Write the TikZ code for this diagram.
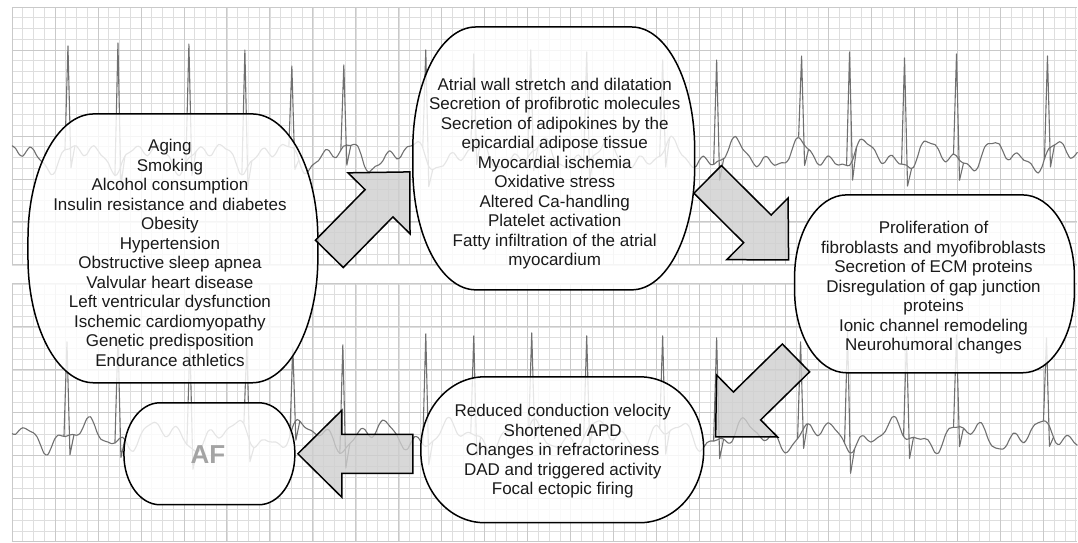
\documentclass[tikz,border=0pt]{standalone}
\usepackage{fontspec}
\setmainfont{Liberation Sans}
\usetikzlibrary{calc}
\definecolor{gridminor}{HTML}{DEDEDE}
\definecolor{gridmajor}{HTML}{C9C9C9}
\definecolor{ecggray}{HTML}{707070}
\definecolor{arrowgray}{HTML}{CFCFCF}
\definecolor{afgray}{HTML}{A4A4A4}
\definecolor{textblack}{HTML}{1A1A1A}

% rounded box with elliptic corners: cx, cy, half width, half height, rx, ry
\newcommand\bubble[6]{%
  \draw[bubble] ({#1-#3+#5},{#2+#4}) -- ({#1+#3-#5},{#2+#4})
    arc[start angle=90,end angle=0,x radius=#5,y radius=#6]
    -- ({#1+#3},{#2-#4+#6})
    arc[start angle=0,end angle=-90,x radius=#5,y radius=#6]
    -- ({#1-#3+#5},{#2-#4})
    arc[start angle=270,end angle=180,x radius=#5,y radius=#6]
    -- ({#1-#3},{#2+#4-#6})
    arc[start angle=180,end angle=90,x radius=#5,y radius=#6] -- cycle;}

% block arrow from tail coordinate to tip coordinate
\newcommand\fatarrow[2]{%
  \path let \p1=($(#2)-(#1)$) in \pgfextra{%
    \pgfmathsetmacro\arrang{atan2(\y1,\x1)}\global\let\arrang\arrang
    \pgfmathsetmacro\arrlen{veclen(\x1,\y1)}\global\let\arrlen\arrlen};
  \draw[fatarrow, shift={(#2)}, rotate=\arrang]
    (0,0) -- (-44,43.5) -- (-44,19.5) -- ({-\arrlen},19.5)
    -- ({-\arrlen},-19.5) -- (-44,-19.5) -- (-44,-43.5) -- cycle;}

\begin{document}
\begin{tikzpicture}[x=1pt, y=1pt,
  bubble/.style={draw=black, line width=1.5pt, fill=white, fill opacity=0.82},
  bubbletext/.style={align=center, inner sep=0pt, text=textblack,
    font=\fontsize{17}{19.5}\selectfont},
  fatarrow/.style={draw=black, line width=1.5pt, fill=arrowgray,
    fill opacity=0.8, line join=miter},
  ecg/.style={ecggray, line width=1.1pt, line join=round},
  declare function={
    topwave(\x)=386+10*sin(5.5*\x)+7*sin(11.3*\x+50)
                +3*sin(23*mod(\x,360/23)+120);
    lowwave(\x)=106+10*sin(4.9*\x+30)+7*sin(12.1*mod(\x,360/12.1)+80)
                +3*sin(21*mod(\x,360/21)+10);}]

  \fill[white] (0,0) rectangle (1078,542); % page

  % paper grid
  \begin{scope}[shift={(12,277)}]
    \draw[gridminor, line width=0.6pt] (0,0) grid[step=10.75] (1066,258);
    \draw[gridmajor, line width=0.8pt] (0,0) grid[step=43] (1066,258);
  \end{scope}
  \begin{scope}[shift={(12,0)}]
    \draw[gridminor, line width=0.6pt] (0,0) grid[step=10.75] (1066,258);
    \draw[gridmajor, line width=0.8pt] (0,0) grid[step=43] (1066,258);
  \end{scope}

  % traces
  \draw[ecg] plot[domain=12:1078, samples=300, smooth] (\x,{topwave(\x)});
  \foreach \s/\p in {68/496, 118/499, 189/498, 245/492, 292/476, 344/477,
                     426/492, 474/488, 531/492, 587/490, 663/482, 717/482,
                     802/486, 850/490, 905/484, 957/488, 1048/486}
    \draw[ecg] ({\s-3},{topwave(\s-3)}) -- (\s,\p)
      -- ({\s+3},{topwave(\s+3)-20}) -- ({\s+7},{topwave(\s+7)});
  \draw[ecg] plot[domain=12:1078, samples=300, smooth] (\x,{lowwave(\x)});
  \foreach \s/\p in {67/200, 118/204, 190/201, 247/198, 293/194, 343/197,
                     426/208, 474/206, 532/209, 587/206, 663/206, 717/204,
                     801/200, 848/210, 907/205, 957/207, 1047/204}
    \draw[ecg] ({\s-3},{lowwave(\s-3)}) -- (\s,\p)
      -- ({\s+3},{lowwave(\s+3)-20}) -- ({\s+7},{lowwave(\s+7)});

  % bubbles
  \bubble{173}{293.5}{145}{134.5}{66}{125}
  \bubble{554}{383.5}{141}{131.5}{63}{122}
  \bubble{935}{258}{140}{89}{52}{82}
  \bubble{562.5}{92}{141.5}{73}{64}{72}
  \bubble{209.5}{88}{85.5}{51}{36}{50}

  \node[bubbletext] (risk) at (170,289) {Aging\\Smoking\\Alcohol consumption\\
    Insulin resistance and diabetes\\Obesity\\Hypertension\\
    Obstructive sleep apnea\\Valvular heart disease\\
    Left ventricular dysfunction\\Ischemic cardiomyopathy\\
    Genetic predisposition\\Endurance athletics};
  \node[bubbletext] (mech) at (555,368.5) {Atrial wall stretch and dilatation\\
    Secretion of profibrotic molecules\\Secretion of adipokines by the\\
    epicardial adipose tissue\\Myocardial ischemia\\Oxidative stress\\
    Altered Ca-handling\\Platelet activation\\
    Fatty infiltration of the atrial\\myocardium};
  \node[bubbletext] (remod) at (934,254) {Proliferation of\\
    fibroblasts and myofibroblasts\\Secretion of ECM proteins\\
    Disregulation of gap junction\\proteins\\Ionic channel remodeling\\
    Neurohumoral changes};
  \node[bubbletext] (electro) at (563,90.5) {Reduced conduction velocity\\
    Shortened APD\\Changes in refractoriness\\DAD and triggered activity\\
    Focal ectopic firing};
  \node[inner sep=0pt, text=afgray, font=\fontsize{26}{30}\selectfont\bfseries]
    (af) at (208,87) {AF};

  % arrows between the stages
  \coordinate (riskout) at (329.5,288);  \coordinate (mechin) at (410,370);
  \coordinate (mechout) at (708,362.5);  \coordinate (remodin) at (789,282);
  \coordinate (remodout) at (796.5,184); \coordinate (electroin) at (716,105);
  \coordinate (electroout) at (413,88);  \coordinate (afin) at (298,88);
  \fatarrow{riskout}{mechin}
  \fatarrow{mechout}{remodin}
  \fatarrow{remodout}{electroin}
  \fatarrow{electroout}{afin}
\end{tikzpicture}
\end{document}
